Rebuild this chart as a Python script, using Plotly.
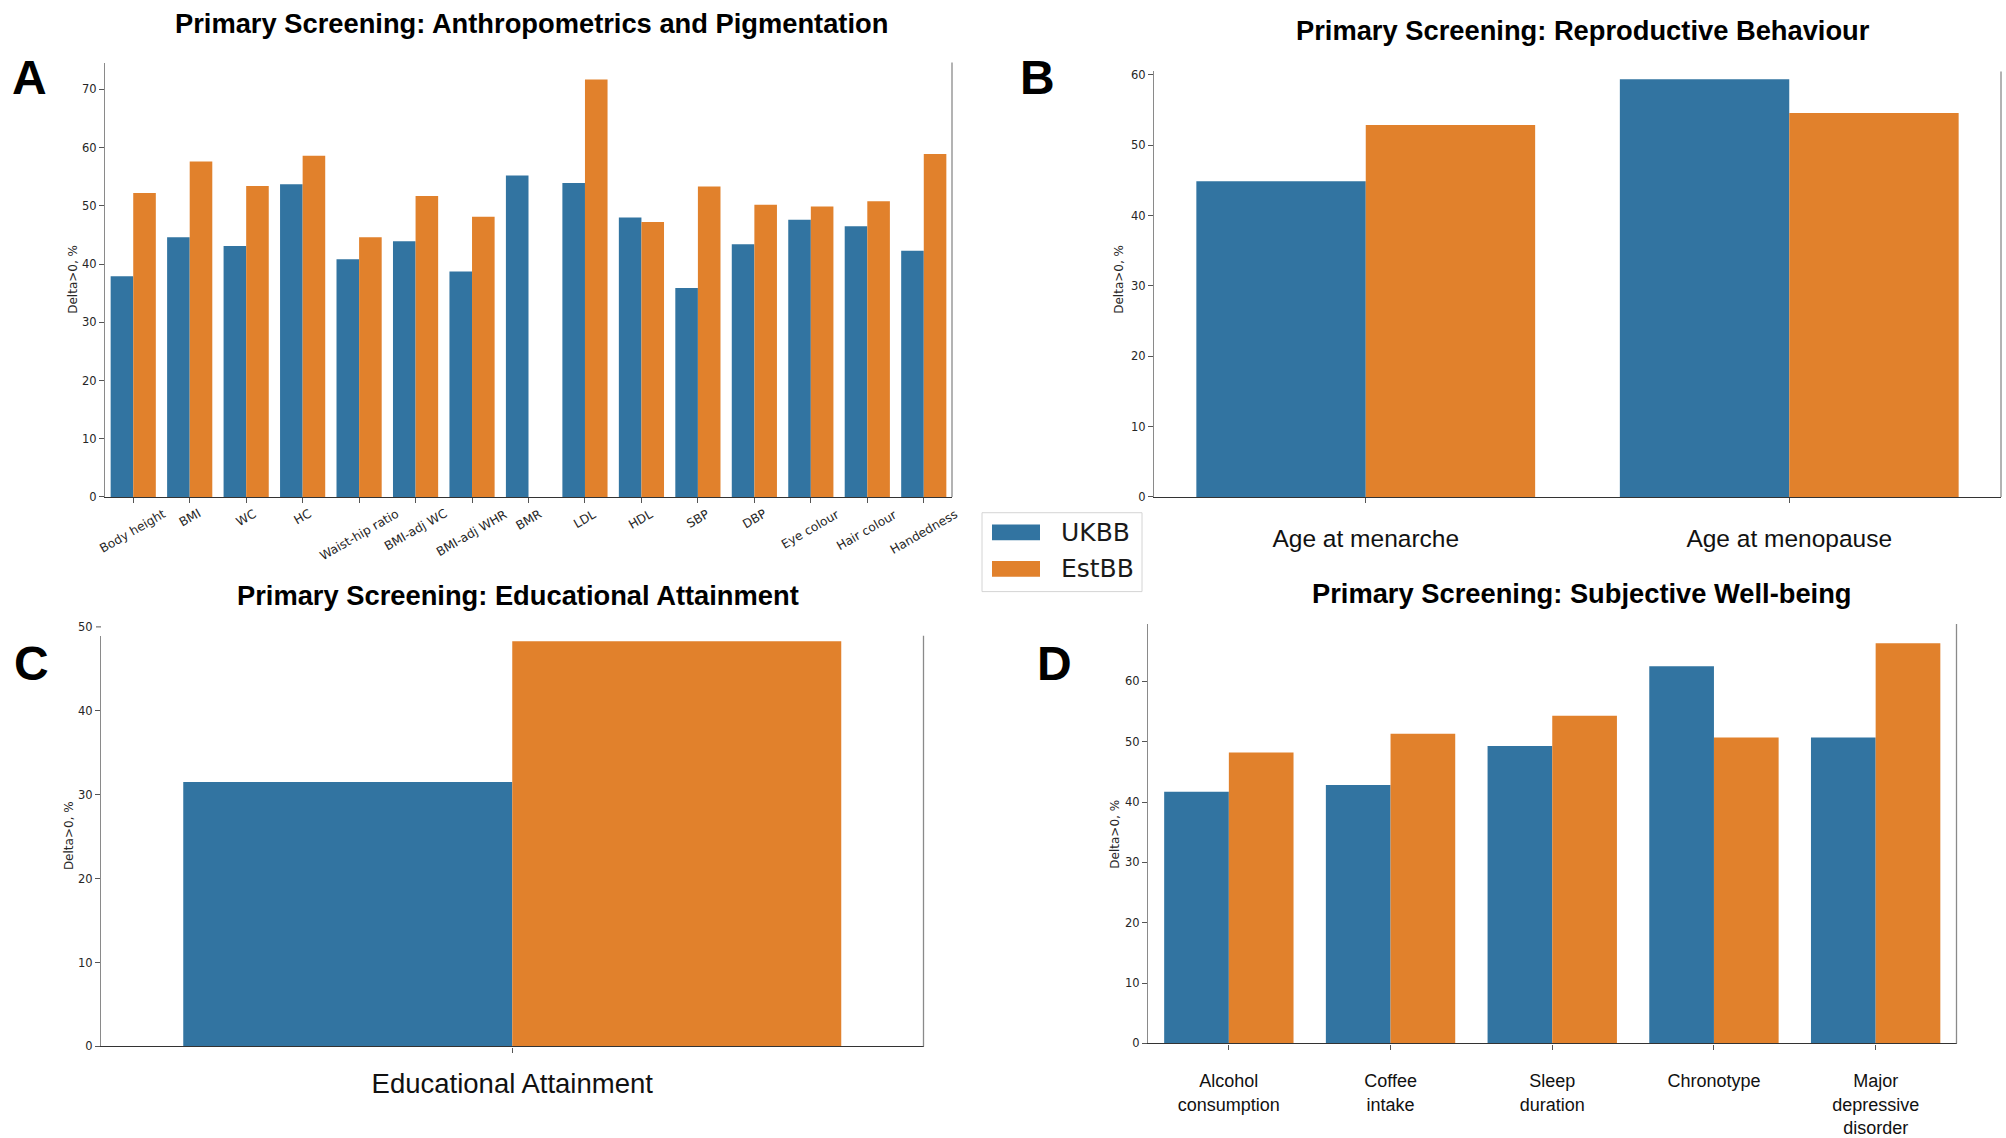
import plotly.graph_objects as go

# ---- data -------------------------------------------------------------
series_names = ["UKBB", "EstBB"]
series_colors = ["#3274a1", "#e1812c"]

anthro_traits = ["Body height", "BMI", "WC", "HC", "Waist-hip ratio", "BMI-adj WC",
                 "BMI-adj WHR", "BMR", "LDL", "HDL", "SBP", "DBP", "Eye colour",
                 "Hair colour", "Handedness"]
anthro_ukbb = [37.9, 44.6, 43.1, 53.7, 40.8, 43.9, 38.7, 55.2, 53.9, 48.0, 35.9, 43.4, 47.6, 46.5, 42.3]
anthro_estbb = [52.2, 57.6, 53.4, 58.6, 44.6, 51.7, 48.1, None, 71.7, 47.2, 53.3, 50.2, 49.9, 50.8, 58.9]

repro_traits = ["Age at menarche", "Age at menopause"]
repro_ukbb = [44.9, 59.4]
repro_estbb = [52.9, 54.6]

edu_traits = ["Educational Attainment"]
edu_ukbb = [31.5]
edu_estbb = [48.3]

swb_traits = ["Alcohol<br>consumption", "Coffee<br>intake", "Sleep<br>duration",
              "Chronotype", "Major<br>depressive<br>disorder"]
swb_ukbb = [41.7, 42.8, 49.3, 62.5, 50.7]
swb_estbb = [48.2, 51.3, 54.3, 50.7, 66.3]

panel_titles = ["Primary Screening: Anthropometrics and Pigmentation",
                "Primary Screening: Reproductive Behaviour",
                "Primary Screening: Educational Attainment",
                "Primary Screening: Subjective Well-being"]
panel_letters = ["A", "B", "C", "D"]
y_title = "Delta>0, %"

# ---- figure -----------------------------------------------------------
W, H = 2006, 1138
TICK_FONT = dict(family="DejaVu Sans", size=11.5, color="#262626")
CAT_FONT = "Liberation Sans, Arial, sans-serif"

fig = go.Figure()

panels = [
    ("x", "y", anthro_traits, anthro_ukbb, anthro_estbb),
    ("x2", "y2", repro_traits, repro_ukbb, repro_estbb),
    ("x3", "y3", edu_traits, edu_ukbb, edu_estbb),
    ("x4", "y4", swb_traits, swb_ukbb, swb_estbb),
]
for xa, ya, cats, uk, est in panels:
    for name, color, vals in zip(series_names, series_colors, [uk, est]):
        fig.add_trace(go.Bar(
            x=cats, y=vals, name=name, xaxis=xa, yaxis=ya,
            marker=dict(color=color, line=dict(width=0)),
            showlegend=False,
        ))


def px_dom(a, b):
    return [a / W, b / W]


def py_dom(top, bottom):
    return [1 - bottom / H, 1 - top / H]


def yaxis_style(domain, top_val, anchor):
    return dict(domain=domain, range=[0, top_val], anchor=anchor,
                tickmode="linear", tick0=0, dtick=10,
                ticks="outside", ticklen=5, tickwidth=1, tickcolor="#555555",
                tickfont=TICK_FONT, showline=True, linecolor="#8a8a8a",
                linewidth=1.3, showgrid=False, zeroline=False)


def xaxis_style(domain, n, anchor, **kw):
    d = dict(domain=domain, type="category", range=[-0.5, n - 0.5], anchor=anchor,
             ticks="outside", ticklen=5, tickwidth=1, tickcolor="#555555",
             showline=True, linecolor="#333333", linewidth=1.3,
             showgrid=False, zeroline=False)
    d.update(kw)
    return d


fig.update_layout(
    width=W, height=H,
    margin=dict(l=0, r=0, t=0, b=0),
    paper_bgcolor="white", plot_bgcolor="white",
    barmode="group", bargap=0.2, bargroupgap=0,
    showlegend=False,
    xaxis=xaxis_style(px_dom(105, 952), len(anthro_traits), "y",
                      showticklabels=False),
    yaxis=yaxis_style(py_dom(60.4, 501), 74.6, "x"),
    xaxis2=xaxis_style(px_dom(1154, 2001), len(repro_traits), "y2",
                       tickfont=dict(family=CAT_FONT, size=24.5, color="#111111"),
                       ticklabelstandoff=14),
    yaxis2=yaxis_style(py_dom(69.4, 501), 60.5, "x2"),
    xaxis3=xaxis_style(px_dom(101, 923.5), len(edu_traits), "y3",
                       tickfont=dict(family=CAT_FONT, size=27.5, color="#111111"),
                       ticklabelstandoff=7),
    yaxis3=yaxis_style(py_dom(641.8, 1058.3), 48.94, "x3"),
    xaxis4=xaxis_style(px_dom(1148, 1956.5), len(swb_traits), "y4",
                       tickfont=dict(family=CAT_FONT, size=18, color="#111111"),
                       ticklabelstandoff=16),
    yaxis4=yaxis_style(py_dom(629.8, 1055.3), 69.5, "x4"),
)

# right-hand spines
for xa, ya in [("x", "y"), ("x2", "y2"), ("x3", "y3"), ("x4", "y4")]:
    fig.add_shape(type="line", xref=f"{xa} domain", yref=f"{ya} domain",
                  x0=1, x1=1, y0=0, y1=1, line=dict(color="#8a8a8a", width=1.3))

annotations = []

# rotated category labels for panel A
for trait in anthro_traits:
    annotations.append(dict(
        x=trait, y=0, xref="x", yref="y", text=trait, showarrow=False,
        xanchor="center", yanchor="top", yshift=-7, textangle=-30,
        font=dict(family="DejaVu Sans", size=12.2, color="#262626")))

# "50" tick label sitting just above panel C's axis
annotations.append(dict(x=101 / W, y=1 - 632.8 / H, xref="paper", yref="paper",
                        text="50", showarrow=False, xanchor="right",
                        yanchor="middle", xshift=-6, font=TICK_FONT))
fig.add_shape(type="line", xref="paper", yref="paper",
              x0=96 / W, x1=101 / W, y0=1 - 632.8 / H, y1=1 - 632.8 / H,
              line=dict(color="#555555", width=1))

# panel titles
title_pos = [(531, 20.5), (1583, 28.2), (518, 601.3), (1582, 599.3)]
for text, (cx, cy) in zip(panel_titles, title_pos):
    annotations.append(dict(
        x=cx / W, y=1 - cy / H, xref="paper", yref="paper", text=text,
        showarrow=False, xanchor="center", yanchor="middle",
        font=dict(family=CAT_FONT, size=27.3, color="black", weight="bold")))

# panel letters
letter_pos = [(10, 75.7), (1018, 75.7), (12, 669.7), (1034.5, 669.7)]
for text, (lx, ly) in zip(panel_letters, letter_pos):
    annotations.append(dict(
        x=lx / W, y=1 - ly / H, xref="paper", yref="paper", text=text,
        showarrow=False, xanchor="left", yanchor="middle",
        font=dict(family=CAT_FONT, size=48, color="black", weight="bold")))

# y-axis titles
ytitle_pos = [(73, 280.7), (1119, 280.7), (69, 845), (1115.5, 843)]
for (tx, ty) in ytitle_pos:
    annotations.append(dict(
        x=tx / W, y=1 - ty / H, xref="paper", yref="paper", text=y_title,
        showarrow=False, xanchor="center", yanchor="middle", textangle=-90,
        font=dict(family="DejaVu Sans", size=12, color="#262626")))

# shared legend: framed box with wide colour patches
fig.add_shape(type="rect", xref="paper", yref="paper",
              x0=982 / W, x1=1142 / W, y0=1 - 597 / H, y1=1 - 517 / H,
              line=dict(color="#d4d4d4", width=1), fillcolor="white")
legend_rows = [(537, series_names[0], series_colors[0]),
               (574, series_names[1], series_colors[1])]
for cy, name, color in legend_rows:
    fig.add_shape(type="rect", xref="paper", yref="paper",
                  x0=992 / W, x1=1040 / W, y0=1 - (cy + 8) / H, y1=1 - (cy - 8) / H,
                  line=dict(width=0), fillcolor=color)
    annotations.append(dict(
        x=1059 / W, y=1 - cy / H, xref="paper", yref="paper", text=name,
        showarrow=False, xanchor="left", yanchor="middle",
        font=dict(family="DejaVu Sans", size=25, color="#1a1a1a")))

fig.update_layout(annotations=annotations)

fig.write_html("out.html")
